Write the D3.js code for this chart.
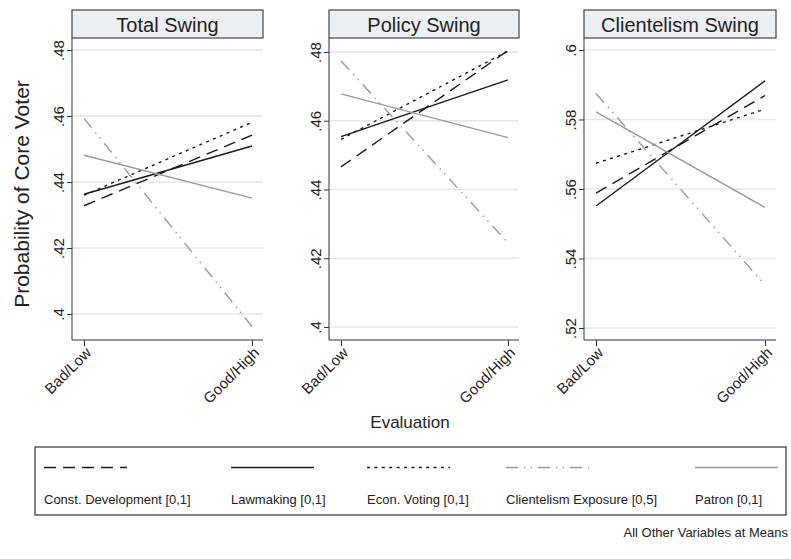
<!DOCTYPE html>
<html>
<head>
<meta charset="utf-8">
<script src="https://cdn.jsdelivr.net/npm/d3@7"></script>
<style>
  body { margin: 0; background: #fff; }
  svg text { font-family: "Liberation Sans", Arial, sans-serif; fill: #222; }
</style>
</head>
<body>
<svg id="chart" width="791" height="559"></svg>
<script>
// categories on the x axis
var categories = ["Bad/Low", "Good/High"];

// one panel per swing type
var panelTitles = ["Total Swing", "Policy Swing", "Clientelism Swing"];

// y tick values and labels per panel
var yTickValues = [
  [0.40, 0.42, 0.44, 0.46, 0.48],
  [0.40, 0.42, 0.44, 0.46, 0.48],
  [0.52, 0.54, 0.56, 0.58, 0.60]
];
var yTickLabels = [
  [".4", ".42", ".44", ".46", ".48"],
  [".4", ".42", ".44", ".46", ".48"],
  [".52", ".54", ".56", ".58", ".6"]
];

// series names (legend order)
var seriesNames = ["Const. Development [0,1]", "Lawmaking [0,1]", "Econ. Voting [0,1]",
                   "Clientelism Exposure [0,5]", "Patron [0,1]"];

// predicted probabilities, [Bad/Low, Good/High] for each panel
var constDev    = [[0.4328, 0.4542], [0.4466, 0.4804], [0.5588, 0.5869]];
var lawmaking   = [[0.4363, 0.4509], [0.4554, 0.4719], [0.5551, 0.5911]];
var econVoting  = [[0.4360, 0.4581], [0.4546, 0.4803], [0.5674, 0.5830]];
var clientExp   = [[0.4593, 0.3962], [0.4774, 0.4245], [0.5875, 0.5324]];
var patron      = [[0.4481, 0.4351], [0.4678, 0.4551], [0.5822, 0.5547]];

var seriesValues = [constDev, lawmaking, econVoting, clientExp, patron];

// line styles for each series
var styles = [
  {stroke: "#1a1a1a", dash: "12,7",             width: 1.4},
  {stroke: "#1a1a1a", dash: null,               width: 1.4},
  {stroke: "#1a1a1a", dash: "3,4.4",            width: 1.4},
  {stroke: "#9a9a9a", dash: "12,6,1.5,5,1.5,6", width: 1.4},
  {stroke: "#9a9a9a", dash: null,               width: 1.4}
];

var svg = d3.select("#chart");

// panel layout: left/right edges and y domain per panel
var panelBox = [
  {x0: 72,  x1: 263, dom: [0.39212, 0.48364]},
  {x0: 329, x1: 519, dom: [0.39622, 0.48407]},
  {x0: 584, x1: 776, dom: [0.51655, 0.60345]}
];
var headTop = 10, plotTop = 38, plotBottom = 340;

panelTitles.forEach(function(title, p) {
  var box = panelBox[p];
  var g = svg.append("g");

  var x = d3.scalePoint().domain(categories).range([box.x0 + 12, box.x1 - 11]);
  var y = d3.scaleLinear().domain(box.dom).range([plotBottom, plotTop]);

  // gridlines
  g.selectAll("line.grid").data(yTickValues[p]).enter().append("line")
    .attr("x1", box.x0).attr("x2", box.x1)
    .attr("y1", function(d) { return y(d); }).attr("y2", function(d) { return y(d); })
    .attr("stroke", "#e6e6e6").attr("stroke-width", 1.6);

  // header strip
  g.append("rect")
    .attr("x", box.x0).attr("y", headTop)
    .attr("width", box.x1 - box.x0).attr("height", plotTop - headTop)
    .attr("fill", "#eceff1").attr("stroke", "#333").attr("stroke-width", 1.1);
  g.append("text")
    .attr("x", (box.x0 + box.x1) / 2).attr("y", 31.5)
    .attr("text-anchor", "middle").attr("font-size", 20)
    .text(title);

  // y axis
  var yAxis = d3.axisLeft(y).tickValues(yTickValues[p]).tickSize(5)
    .tickFormat(function(d, i) { return yTickLabels[p][i]; });
  var ya = g.append("g").attr("transform", "translate(" + box.x0 + ",0)").call(yAxis);
  ya.select(".domain").attr("d", "M0," + plotTop + "V" + plotBottom).attr("stroke", "#333");
  ya.selectAll(".tick line").attr("stroke", "#333");
  ya.selectAll(".tick text")
    .attr("x", null).attr("dy", null)
    .attr("transform", "translate(-8,0) rotate(-90)")
    .attr("text-anchor", "middle").attr("font-size", 15).attr("font-family", null);

  // x axis
  var xAxis = d3.axisBottom(x).tickSize(6);
  var xa = g.append("g").attr("transform", "translate(0," + plotBottom + ")").call(xAxis);
  xa.select(".domain").attr("d", "M" + box.x0 + ",0H" + box.x1).attr("stroke", "#333");
  xa.selectAll(".tick line").attr("stroke", "#333");
  xa.selectAll(".tick text")
    .attr("y", null).attr("dy", null)
    .attr("transform", "translate(4,10) rotate(-45)")
    .attr("dy", "0.35em")
    .attr("text-anchor", "end").attr("font-size", 15).attr("font-family", null);

  // series lines
  var line = d3.line()
    .x(function(d, i) { return x(categories[i]); })
    .y(function(d) { return y(d); });

  seriesValues.forEach(function(vals, s) {
    g.append("path")
      .datum(vals[p])
      .attr("d", line)
      .attr("fill", "none")
      .attr("stroke", styles[s].stroke)
      .attr("stroke-width", styles[s].width)
      .attr("stroke-dasharray", styles[s].dash);
  });
});

// y axis title
svg.append("text")
  .attr("transform", "translate(29,194) rotate(-90)")
  .attr("text-anchor", "middle").attr("font-size", 21)
  .text("Probability of Core Voter");

// x axis title
svg.append("text")
  .attr("x", 410).attr("y", 428)
  .attr("text-anchor", "middle").attr("font-size", 17)
  .text("Evaluation");

// legend
var legendCols = [44, 231, 367, 506, 695];
svg.append("rect")
  .attr("x", 35).attr("y", 447).attr("width", 751).attr("height", 68)
  .attr("fill", "#fff").attr("stroke", "#333").attr("stroke-width", 1.2);

seriesNames.forEach(function(name, s) {
  var lx = legendCols[s];
  svg.append("line")
    .attr("x1", lx).attr("x2", lx + 83).attr("y1", 467.5).attr("y2", 467.5)
    .attr("stroke", styles[s].stroke).attr("stroke-width", styles[s].width)
    .attr("stroke-dasharray", styles[s].dash);
  svg.append("text")
    .attr("x", lx).attr("y", 504)
    .attr("font-size", 13)
    .text(name);
});

// note
svg.append("text")
  .attr("x", 788).attr("y", 537)
  .attr("text-anchor", "end")
  .attr("font-size", 13)
  .text("All Other Variables at Means");
</script>
</body>
</html>
